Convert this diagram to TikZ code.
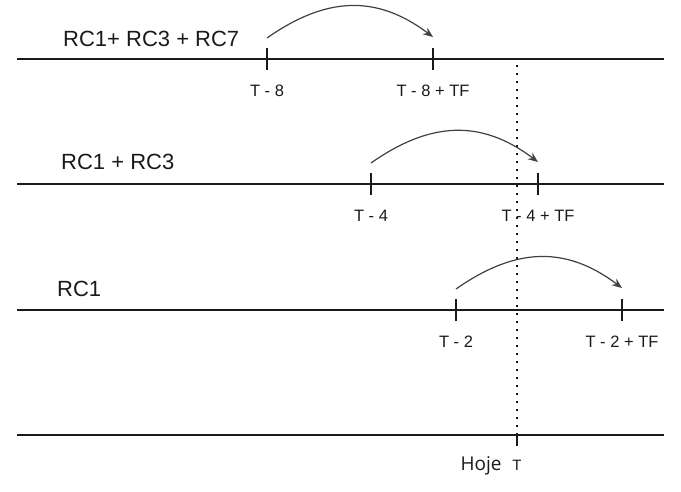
\documentclass[tikz,border=0pt]{standalone}
\usepackage{fontspec}
\setmainfont{Liberation Sans}
\newfontfamily\hojefont{Open Sans}
\usepackage{tikz}
\usetikzlibrary{arrows.meta,positioning}
\definecolor{ink}{HTML}{1A1A1A}
\definecolor{inkgray}{HTML}{404040}
\tikzset{
  axisline/.style={draw=ink,line width=1.1pt},
  tick/.style={draw=ink,line width=1.1pt},
  jumparr/.style={-{Stealth[length=10pt,width=8pt]},draw=inkgray,line width=1.2pt},
  todayline/.style={draw=ink,line width=2.2pt,dash pattern=on 2.2pt off 5.8pt},
  rclabel/.style={anchor=west,inner sep=0pt,font=\fontsize{22}{26}\selectfont,text=ink},
  tlabel/.style={inner sep=0pt,font=\fontsize{16.5}{19}\selectfont,text=ink}
}
\begin{document}
\begin{tikzpicture}[x=1pt,y=1pt]
  \useasboundingbox (0,0) rectangle (681,491);
  % time axes
  \foreach \name/\yy in {la/432,lb/307,lc/181,ld/56}{
    \coordinate (\name w) at (17,\yy);
    \coordinate (\name e) at (664,\yy);
    \draw[axisline] (\name w) -- (\name e);
  }
  % ticks: name/x/y/text
  \foreach \name/\xx/\yy/\txt in {ta/267/432/{T - 8},tb/433/432/{T - 8 + TF},
                                  tc/371/307/{T - 4},td/538/307/{T - 4 + TF},
                                  te/456/181/{T - 2},tf/622/181/{T - 2 + TF}}{
    \coordinate (\name) at (\xx,\yy);
    \draw[tick] ([yshift=-11pt]\name) -- ([yshift=11pt]\name);
    \node[tlabel] (\name lbl) at ([yshift=-32pt]\name) {\txt};
  }
  % today
  \coordinate (today) at (517,56);
  \coordinate (todaytop) at (517,426);
  \draw[todayline] (todaytop) -- (today);
  \draw[tick] (today) -- ([yshift=-11pt]today);
  \node[anchor=base,inner sep=0pt,font=\fontsize{15}{18}\selectfont,text=ink] (tlbl) at (517,20.5) {T};
  \node[anchor=base,inner sep=0pt,font=\hojefont\fontsize{19}{22}\selectfont,text=ink] (hoje) at (481,20.5) {Hoje};
  % jumps
  \draw[jumparr] ([yshift=21pt]ta) to[out=35,in=143,looseness=1.1] ([yshift=22pt]tb);
  \draw[jumparr] ([yshift=21pt]tc) to[out=35,in=143,looseness=1.1] ([yshift=22pt]td);
  \draw[jumparr] ([yshift=21pt]te) to[out=35,in=143,looseness=1.1] ([yshift=22pt]tf);
  % groups
  \node[rclabel] (rca) at (63,452) {RC1+ RC3 + RC7};
  \node[rclabel] (rcb) at (61,329) {RC1 + RC3};
  \node[rclabel] (rcc) at (57,202) {RC1};
\end{tikzpicture}
\end{document}
